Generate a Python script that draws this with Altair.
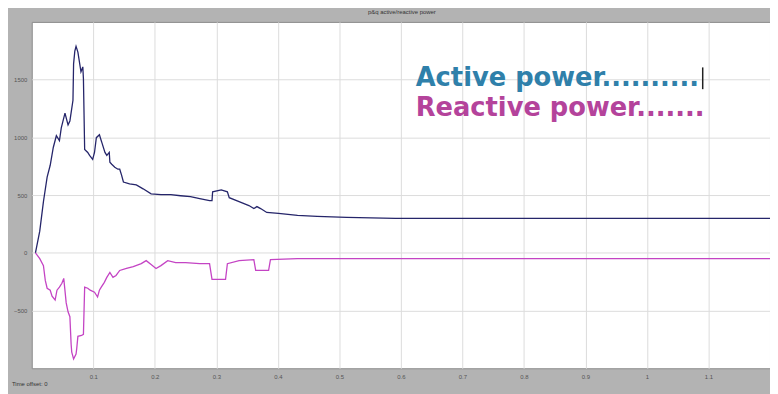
import altair as alt
import pandas as pd

# ---- data ----
active_t = [0.006, 0.013, 0.019, 0.025, 0.030, 0.035, 0.040, 0.045, 0.048, 0.054, 0.059, 0.062,
            0.067, 0.068, 0.070, 0.072, 0.075, 0.078, 0.080, 0.083, 0.084, 0.086, 0.091, 0.094,
            0.099, 0.102, 0.105, 0.110, 0.113, 0.114, 0.119, 0.122, 0.126, 0.127, 0.130, 0.135,
            0.140, 0.143, 0.146, 0.149, 0.159, 0.170, 0.181, 0.194, 0.210, 0.226, 0.242, 0.258,
            0.273, 0.289, 0.293, 0.294, 0.308, 0.318, 0.321, 0.337, 0.353, 0.361, 0.366, 0.372,
            0.382, 0.401, 0.432, 0.464, 0.512, 0.591, 1.2]
active_v = [0, 187, 443, 656, 758, 912, 1014, 971, 1082, 1210, 1108, 1142,
            1321, 1636, 1747, 1789, 1738, 1636, 1568, 1610, 1508, 895, 869, 843,
            809, 869, 997, 1022, 971, 954, 869, 843, 869, 784, 767, 741,
            724, 724, 673, 613, 596, 588, 554, 511, 503, 503, 494, 486,
            469, 452, 452, 528, 545, 528, 477, 443, 409, 383, 400, 383,
            349, 341, 324, 315, 307, 298, 298]

reactive_t = [0.006, 0.013, 0.019, 0.022, 0.025, 0.030, 0.033, 0.038, 0.041, 0.045, 0.049, 0.052,
              0.056, 0.059, 0.062, 0.064, 0.065, 0.068, 0.072, 0.073, 0.075, 0.081, 0.084, 0.086,
              0.091, 0.095, 0.102, 0.107, 0.110, 0.113, 0.118, 0.122, 0.127, 0.132, 0.137, 0.143,
              0.154, 0.165, 0.178, 0.186, 0.194, 0.202, 0.210, 0.221, 0.234, 0.250, 0.273, 0.289,
              0.293, 0.315, 0.318, 0.337, 0.361, 0.364, 0.385, 0.388, 0.432, 1.2]
reactive_v = [0, -51, -111, -239, -307, -324, -375, -409, -324, -298, -264, -222,
              -434, -511, -554, -792, -860, -920, -877, -835, -724, -716, -707, -298,
              -307, -324, -341, -383, -324, -298, -256, -213, -170, -213, -196, -153,
              -136, -119, -94, -68, -102, -136, -111, -68, -85, -85, -94, -94,
              -230, -230, -94, -68, -60, -153, -153, -60, -51, -51]

series_names = ["Active power", "Reactive power"]
series_colors = ["#25256a", "#c444c4"]
x_ticks = [0.1, 0.2, 0.3, 0.4, 0.5, 0.6, 0.7, 0.8, 0.9, 1.0, 1.1]
y_ticks = [-500, 0, 500, 1000, 1500]
title_text = "p&q active/reactive power"
offset_text = "Time offset: 0"
label_texts = ["Active power..........", "Reactive power......."]
label_colors = ["#2f80aa", "#b4439b"]

rows = []
for t, v in zip(active_t, active_v):
    rows.append({"t": t, "v": v, "s": series_names[0]})
for t, v in zip(reactive_t, reactive_v):
    rows.append({"t": t, "v": v, "s": series_names[1]})
df = pd.DataFrame(rows)
df["o"] = range(len(df))

W, H = 746, 350

x_enc = alt.X("t:Q", scale=alt.Scale(domain=[0, 1.2], nice=False, zero=False),
              axis=alt.Axis(values=x_ticks, title=None, labelFontSize=6, labelColor="#555",
                            domain=False, ticks=False,
                            gridColor="#dcdcdc", labelPadding=5, format=".1~f"))
y_enc = alt.Y("v:Q", scale=alt.Scale(domain=[-1000, 2000], nice=False),
              axis=alt.Axis(values=y_ticks, title=None, labelFontSize=6, labelColor="#555",
                            domain=False, ticks=False, format="d",
                            gridColor="#dcdcdc", labelPadding=5))

lines = alt.Chart(df).mark_line(strokeWidth=1.3, interpolate="linear").encode(
    x=x_enc, y=y_enc, order="o:Q",
    color=alt.Color("s:N", scale=alt.Scale(domain=series_names, range=series_colors), legend=None),
)

lab_df = pd.DataFrame({"txt": label_texts, "c": label_colors, "k": [0, 1]})
lab1 = alt.Chart(lab_df[lab_df.k == 0]).mark_text(
    align="left", baseline="middle", font="DejaVu Sans", fontWeight="bold", fontSize=26,
    color=label_colors[0]).encode(x=alt.value(388), y=alt.value(57), text="txt:N")
lab2 = alt.Chart(lab_df[lab_df.k == 1]).mark_text(
    align="left", baseline="middle", font="DejaVu Sans", fontWeight="bold", fontSize=26,
    color=label_colors[1]).encode(x=alt.value(388), y=alt.value(87), text="txt:N")
cursor = alt.Chart(lab_df[lab_df.k == 0]).mark_rule(color="#222", strokeWidth=1.5).encode(
    x=alt.value(678), y=alt.value(46), y2=alt.value(68))

misc_df = pd.DataFrame({"txt": [title_text, offset_text]})
title = alt.Chart(misc_df.iloc[[0]]).mark_text(
    fontSize=6, color="#333", baseline="middle", clip=False).encode(
    x=alt.value(374), y=alt.value(-10), text="txt:N")
offs = alt.Chart(misc_df.iloc[[1]]).mark_text(
    fontSize=6, color="#333", align="left", baseline="middle").encode(
    x=alt.value(-20), y=alt.value(366), text="txt:N")

chart = alt.layer(lines, lab1, lab2, cursor, title, offs).properties(
    width=W, height=H,
    autosize=alt.AutoSizeParams(type="none"),
    padding={"left": 24, "top": 12, "right": 0, "bottom": 24},
    background="#b3b3b3",
).configure_view(fill="white", stroke="#8a8a8a")

chart.save("out.html", embed_options={"renderer": "svg", "actions": False})
